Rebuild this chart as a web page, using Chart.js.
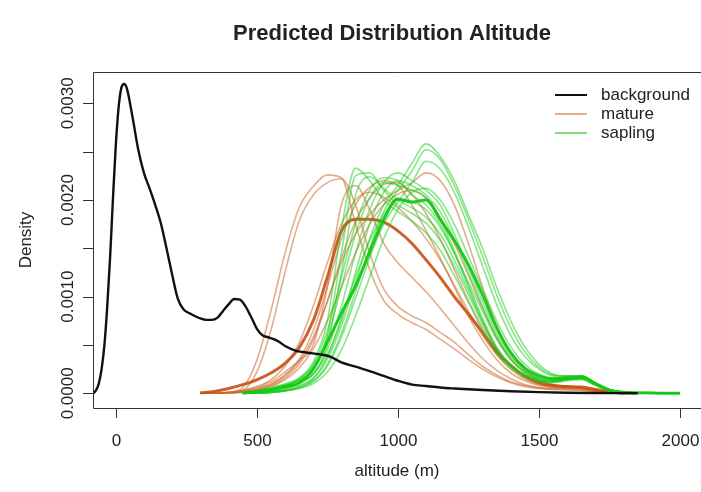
<!DOCTYPE html>
<html>
<head>
<meta charset="utf-8">
<script src="https://cdn.jsdelivr.net/npm/chart.js@4.4.1/dist/chart.umd.min.js"></script>
<style>
  html, body { margin: 0; padding: 0; background: #fff; }
</style>
</head>
<body>
<canvas id="chart" width="701" height="492"></canvas>
<script>
// density values are in units of 1e-4
const bgAltitude = [-80, -70, -60, -50, -40, -30, -20, -10, 0, 10, 20, 30, 40, 60, 80, 100, 120, 140, 160, 180,
  200, 220, 240, 260, 280, 300, 320, 340, 360, 380, 400, 420, 440, 460, 480, 500, 520, 540, 560, 580,
  600, 640, 680, 720, 760, 800, 850, 900, 950, 1000, 1050, 1100, 1150, 1200, 1300, 1400, 1500, 1600, 1700, 1800, 1850];
const background = [0, 0.3, 1.0, 2.5, 5.0, 9.0, 14.0, 20.0, 25.5, 29.5, 31.6, 32.0, 31.5, 28.5, 25.2, 22.8, 21.2, 19.5, 17.6, 15.0,
  12.3, 9.8, 8.7, 8.3, 8.0, 7.75, 7.6, 7.6, 7.8, 8.5, 9.2, 9.75, 9.7, 9.0, 7.9, 6.7, 6.0, 5.8, 5.6, 5.3,
  4.9, 4.4, 4.2, 4.05, 3.8, 3.2, 2.75, 2.3, 1.8, 1.3, 0.9, 0.75, 0.6, 0.5, 0.34, 0.22, 0.12, 0.06, 0.03, 0.01, 0];

// shared altitude grid for mature / sapling runs
const altitude = [250, 300, 350, 400, 450, 500, 550, 600, 650, 700, 750, 800, 850, 900, 950, 1000, 1050, 1100,
  1150, 1200, 1250, 1300, 1350, 1400, 1450, 1500, 1550, 1600, 1650, 1700, 1750, 1800, 1850, 1900, 1950, 2000];

const N = null;
const matureRuns = [
  [N, 0, 0.02, 0.1, 0.6, 3.4, 8.5, 14.5, 19.2, 21.4, 22.6, 22.3, 17.5, 12.8, 9.6, 8.2, 7.3, 6.6, 5.6, 4.6, 3.5, 2.5, 1.7, 1.1, 0.7, 0.5, 0.4, 0.35, 0.3, 0.15, 0.05, 0, N, N, N, N],
  [N, 0, 0.01, 0.05, 0.3, 2.2, 6.5, 12.5, 17.8, 20.5, 21.8, 22.2, 19.5, 14.5, 10.8, 9.0, 8.0, 7.3, 6.3, 5.3, 4.0, 2.8, 1.9, 1.2, 0.8, 0.55, 0.45, 0.4, 0.35, 0.2, 0.05, 0, N, N, N, N],
  [N, 0, 0.02, 0.1, 0.3, 0.6, 1.2, 2.2, 3.4, 5.0, 11.0, 19.5, 21.5, 19.0, 15.5, 13.5, 12.0, 10.5, 8.8, 7.0, 5.2, 3.6, 2.4, 1.5, 0.9, 0.6, 0.5, 0.5, 0.45, 0.25, 0.08, 0, N, N, N, N],
  [N, 0, 0.02, 0.08, 0.2, 0.5, 1.0, 1.9, 3.5, 6.5, 11.0, 16.0, 19.5, 21.3, 22.0, 21.5, 19.5, 16.8, 14.0, 11.0, 8.0, 5.5, 3.5, 2.1, 1.3, 0.8, 0.6, 0.55, 0.5, 0.3, 0.1, 0, N, N, N, N],
  [N, 0, 0.01, 0.05, 0.15, 0.4, 0.9, 1.8, 3.3, 5.8, 9.5, 13.5, 16.5, 18.5, 20.0, 21.0, 21.8, 22.8, 22.0, 19.5, 15.5, 11.0, 7.0, 4.2, 2.4, 1.4, 0.9, 0.7, 0.6, 0.35, 0.1, 0, N, N, N, N],
  [N, 0, 0.02, 0.1, 0.3, 0.7, 1.4, 2.8, 5.2, 9.0, 13.5, 17.5, 20.0, 20.8, 20.3, 19.2, 17.8, 16.0, 13.8, 11.2, 8.5, 6.0, 4.0, 2.5, 1.5, 0.9, 0.65, 0.6, 0.55, 0.3, 0.1, 0, N, N, N, N],
  [N, 0, 0.01, 0.05, 0.15, 0.35, 0.8, 1.6, 3.0, 5.5, 9.5, 14.0, 17.8, 20.2, 21.6, 21.8, 20.6, 18.6, 16.0, 12.8, 9.6, 6.8, 4.5, 2.8, 1.6, 1.0, 0.7, 0.6, 0.5, 0.3, 0.1, 0, N, N, N, N],
  [N, 0, 0.01, 0.04, 0.1, 0.3, 0.7, 1.4, 2.6, 4.6, 7.5, 11.0, 14.5, 17.5, 19.5, 20.6, 21.0, 20.2, 18.2, 15.5, 12.2, 8.8, 5.8, 3.6, 2.1, 1.3, 0.85, 0.7, 0.6, 0.35, 0.1, 0, N, N, N, N]
];
const matureMean = [N, 0.05, 0.2, 0.5, 0.9, 1.4, 2.1, 3.1, 4.7, 7.5, 12.0, 16.8, 18.0, 18.0, 17.7, 16.8, 15.5, 13.8, 12.0, 10.0, 8.2, 6.3, 4.3, 2.9, 1.8, 1.1, 0.8, 0.7, 0.65, 0.4, 0.15, 0.03, N, N, N, N];

const saplingRuns = [
  [N, N, N, N, 0, 0.2, 0.6, 1.0, 1.6, 3.2, 7.5, 17.0, 23.3, 22.0, 20.0, 18.8, 17.8, 16.6, 14.8, 12.2, 9.4, 6.5, 4.1, 2.6, 1.7, 1.2, 1.1, 1.3, 1.4, 0.8, 0.3, 0.1, 0.04, 0.02, 0.01, 0],
  [N, N, N, N, 0, 0.15, 0.5, 0.9, 1.4, 2.5, 6.0, 14.5, 22.5, 22.8, 21.0, 19.5, 18.6, 17.6, 15.8, 13.2, 10.2, 7.2, 4.6, 2.8, 1.8, 1.3, 1.2, 1.4, 1.5, 0.9, 0.35, 0.12, 0.05, 0.02, 0.01, 0],
  [N, N, N, N, 0, 0.1, 0.4, 0.8, 1.3, 2.0, 5.0, 12.5, 20.5, 22.4, 21.2, 20.0, 19.2, 18.2, 16.5, 13.8, 10.6, 7.4, 4.7, 2.9, 1.9, 1.3, 1.2, 1.4, 1.5, 0.9, 0.35, 0.12, 0.05, 0.02, 0.01, 0],
  [N, N, N, N, 0, 0.1, 0.3, 0.8, 1.5, 3.0, 6.5, 12.0, 17.5, 21.0, 22.3, 22.0, 20.5, 19.5, 17.5, 14.5, 11.0, 7.5, 4.6, 2.8, 1.8, 1.3, 1.2, 1.4, 1.5, 0.9, 0.35, 0.12, 0.05, 0.02, 0.01, 0],
  [N, N, N, N, 0, 0.05, 0.2, 0.5, 1.0, 2.0, 4.0, 7.5, 12.5, 17.5, 20.8, 22.0, 21.5, 20.5, 18.8, 16.0, 12.5, 9.0, 5.8, 3.5, 2.2, 1.5, 1.3, 1.5, 1.6, 1.0, 0.38, 0.13, 0.05, 0.02, 0.01, 0],
  [N, N, N, N, 0, 0.1, 0.3, 0.7, 1.4, 2.8, 5.8, 11.0, 16.5, 20.2, 21.8, 21.5, 21.0, 20.2, 18.0, 14.8, 11.2, 7.8, 4.8, 2.9, 1.9, 1.4, 1.3, 1.5, 1.6, 0.95, 0.36, 0.12, 0.05, 0.02, 0.01, 0],
  [N, N, N, N, 0, 0.03, 0.1, 0.3, 0.7, 1.5, 3.5, 7.0, 11.5, 16.0, 19.5, 21.5, 23.8, 25.8, 24.5, 22.0, 18.5, 15.0, 11.0, 7.5, 4.8, 3.0, 2.0, 1.8, 1.8, 1.1, 0.4, 0.12, 0.05, 0.02, 0.01, 0],
  [N, N, N, N, 0, 0.03, 0.1, 0.25, 0.6, 1.3, 3.0, 6.2, 10.5, 15.0, 18.8, 21.0, 23.0, 25.2, 24.2, 21.5, 18.0, 14.2, 10.2, 6.8, 4.3, 2.7, 1.9, 1.8, 1.8, 1.1, 0.4, 0.12, 0.05, 0.02, 0.01, 0],
  [N, N, N, N, 0, 0.03, 0.1, 0.25, 0.55, 1.2, 2.8, 5.8, 9.8, 14.0, 17.5, 19.8, 21.8, 24.0, 23.2, 20.8, 17.2, 13.2, 9.2, 6.0, 3.8, 2.5, 1.8, 1.7, 1.7, 1.0, 0.38, 0.12, 0.05, 0.02, 0.01, 0],
  [N, N, N, N, 0, 0.05, 0.2, 0.4, 0.8, 1.6, 3.8, 7.8, 12.0, 15.8, 18.5, 20.0, 19.8, 19.0, 17.2, 14.5, 11.5, 8.5, 5.6, 3.5, 2.2, 1.5, 1.3, 1.5, 1.6, 1.0, 0.38, 0.12, 0.05, 0.02, 0.01, 0],
  [N, N, N, N, 0, 0.03, 0.1, 0.25, 0.5, 1.0, 2.2, 4.5, 8.0, 12.0, 16.0, 19.0, 20.8, 21.2, 20.0, 17.5, 14.2, 10.8, 7.5, 4.8, 3.0, 2.0, 1.6, 1.6, 1.7, 1.0, 0.38, 0.12, 0.05, 0.02, 0.01, 0],
  [N, N, N, N, 0, 0.05, 0.2, 0.5, 1.0, 2.0, 4.5, 9.0, 14.5, 19.0, 21.8, 22.8, 22.0, 21.0, 19.5, 16.5, 13.0, 9.5, 6.2, 3.8, 2.4, 1.6, 1.4, 1.5, 1.6, 1.0, 0.38, 0.12, 0.05, 0.02, 0.01, 0]
];
const saplingMean = [N, N, N, N, 0, 0.2, 0.4, 0.7, 1.1, 2.5, 5.3, 8.3, 11.1, 14.6, 18.0, 20.1, 19.8, 20.0, 18.0, 15.8, 13.3, 10.2, 6.8, 4.2, 2.6, 1.8, 1.5, 1.6, 1.7, 1.0, 0.3, 0.1, 0.05, 0.02, 0.01, 0];

const xTicks = [0, 500, 1000, 1500, 2000];
const yTicks = [0, 5, 10, 15, 20, 25, 30];
const yLabelTicks = [0, 10, 20, 30];
const legendLabels = ['background', 'mature', 'sapling'];

const FONT = '"Liberation Sans", Arial, Helvetica, sans-serif';
const colBg = '#111111';
const colMature = 'rgba(205, 105, 45, 0.55)';
const colMatureMean = 'rgba(200, 80, 20, 0.9)';
const colSapling = 'rgba(20, 205, 20, 0.5)';
const colSaplingMean = 'rgba(20, 200, 20, 0.95)';

const toPoints = (xs, ys) => xs.map((x, i) => ({ x: x, y: ys[i] })).filter(p => p.y !== null);

const line = (data, color, width) => ({
  data: data,
  borderColor: color,
  borderWidth: width,
  pointRadius: 0,
  fill: false,
  cubicInterpolationMode: 'monotone'
});

// dataset 0 is drawn on top
const datasets = [line(toPoints(bgAltitude, background), colBg, 2.4),
  line(toPoints(altitude, saplingMean), colSaplingMean, 3)];
saplingRuns.forEach(r => datasets.push(line(toPoints(altitude, r), colSapling, 1.6)));
datasets.push(line(toPoints(altitude, matureMean), colMatureMean, 3));
matureRuns.forEach(r => datasets.push(line(toPoints(altitude, r), colMature, 1.6)));

const rPlot = {
  id: 'rPlot',
  afterDatasetsDraw(chart) {
    const { ctx, chartArea: a, scales: { x, y } } = chart;
    ctx.save();
    ctx.strokeStyle = '#333';
    ctx.lineWidth = 1;
    // box (right edge falls outside the picture)
    ctx.beginPath();
    ctx.moveTo(a.right + 5, a.top + 0.5);
    ctx.lineTo(a.left + 0.5, a.top + 0.5);
    ctx.lineTo(a.left + 0.5, a.bottom + 0.5);
    ctx.lineTo(a.right + 5, a.bottom + 0.5);
    ctx.stroke();

    ctx.fillStyle = '#222';
    ctx.font = '17px ' + FONT;
    ctx.textAlign = 'center';
    ctx.textBaseline = 'alphabetic';
    xTicks.forEach(v => {
      const px = Math.round(x.getPixelForValue(v)) + 0.5;
      ctx.beginPath();
      ctx.moveTo(px, a.bottom);
      ctx.lineTo(px, a.bottom + 10);
      ctx.stroke();
      ctx.fillText(String(v), px, a.bottom + 38);
    });
    yTicks.forEach(v => {
      const py = Math.round(y.getPixelForValue(v)) + 0.5;
      ctx.beginPath();
      ctx.moveTo(a.left, py);
      ctx.lineTo(a.left - 10, py);
      ctx.stroke();
    });
    yLabelTicks.forEach(v => {
      const py = y.getPixelForValue(v);
      ctx.save();
      ctx.translate(a.left - 20, py);
      ctx.rotate(-Math.PI / 2);
      ctx.fillText((v / 10000).toFixed(4), 0, 0);
      ctx.restore();
    });

    // axis titles
    const cx = (a.left + a.right) / 2;
    ctx.fillText('altitude (m)', cx, 476);
    ctx.save();
    ctx.translate(31, (a.top + a.bottom) / 2);
    ctx.rotate(-Math.PI / 2);
    ctx.fillText('Density', 0, 0);
    ctx.restore();

    ctx.font = 'bold 22px ' + FONT;
    ctx.fillText('Predicted Distribution Altitude', cx - 5, 40);

    // legend
    const legendCols = [colBg, 'rgba(215, 120, 60, 0.6)', 'rgba(40, 200, 40, 0.6)'];
    ctx.font = '17px ' + FONT;
    ctx.textAlign = 'left';
    ctx.textBaseline = 'middle';
    legendLabels.forEach((lab, i) => {
      const ly = 95 + i * 19;
      ctx.strokeStyle = legendCols[i];
      ctx.lineWidth = 2;
      ctx.beginPath();
      ctx.moveTo(555, ly);
      ctx.lineTo(587, ly);
      ctx.stroke();
      ctx.fillStyle = '#222';
      ctx.fillText(lab, 601, ly);
    });
    ctx.restore();
  }
};

new Chart(document.getElementById('chart'), {
  type: 'line',
  data: { datasets: datasets },
  options: {
    responsive: false,
    animation: false,
    devicePixelRatio: 1,
    layout: { padding: { left: 93, top: 72, right: 0, bottom: 84 } },
    scales: {
      x: { type: 'linear', min: -80.5, max: 2074.5, display: false },
      y: { type: 'linear', min: -1.52, max: 33.24, display: false }
    },
    plugins: {
      legend: { display: false },
      tooltip: { enabled: false },
      title: { display: false }
    }
  },
  plugins: [rPlot]
});
</script>
</body>
</html>
